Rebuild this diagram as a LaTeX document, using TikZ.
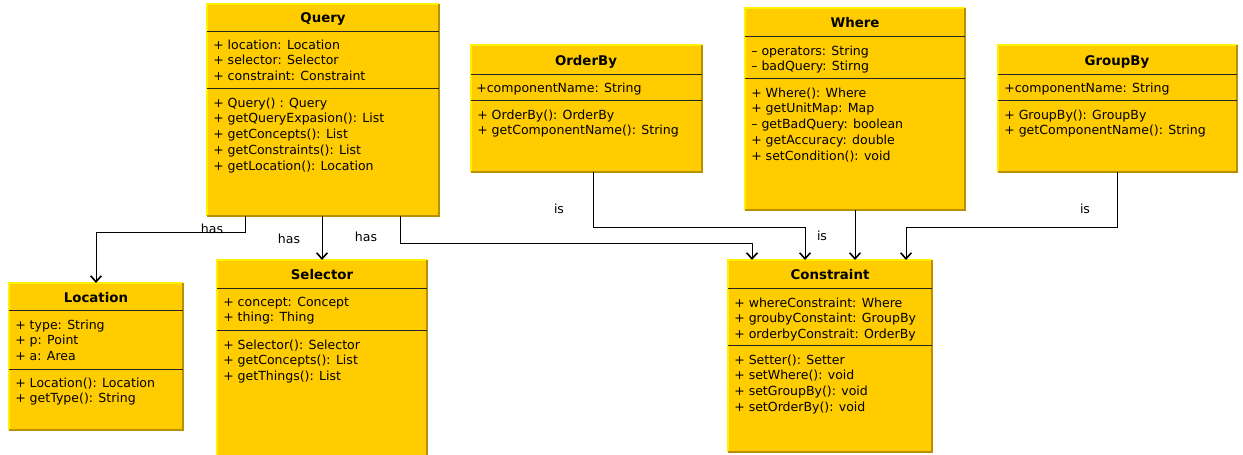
\documentclass[tikz,border=0pt]{standalone}
\usepackage{fontspec}
\setmainfont{DejaVu Sans}
\usetikzlibrary{arrows.meta,calc}
\definecolor{umlfill}{HTML}{FFCC00}
\definecolor{umlhi}{HTML}{FFF200}
\definecolor{umllo}{HTML}{B89000}
\tikzset{
  box/.style={draw=none, fill=umlfill, anchor=north west, inner sep=0pt, outer sep=0pt},
  hi/.style={draw=umlhi, line width=1.5pt},
  lo/.style={draw=umllo, line width=1.5pt},
  sepline/.style={draw=black!85, line width=0.75pt},
  row/.style={anchor=west, inner sep=0pt, yshift=-1.4pt, font=\fontsize{9.4}{11}\selectfont, text height=7pt, text depth=2pt},
  title/.style={inner sep=0pt, yshift=-1.4pt, font=\fontsize{10}{12}\selectfont\bfseries, text height=7pt, text depth=2pt},
  conn/.style={draw=black, line width=0.75pt, -{Straight Barb[length=4.5pt,width=8pt,line width=1.2pt]}},
  lbl/.style={inner sep=0pt, yshift=-0.8pt, font=\fontsize{9.4}{11}\selectfont, text height=7pt, text depth=2pt}
}
\newcommand\umlbox[5]{%
  \node[box, minimum width={(#4-#2)*0.75pt}, minimum height={(#5-#3)*0.75pt}] (#1) at (#2,#3) {};
  \draw[hi] (#1.south west) -- (#1.north west) -- (#1.north east);
  \draw[lo] (#1.north east) -- (#1.south east) -- (#1.south west);
}
\newcommand\umlrows[4]{%
  \foreach \t [count=\i] in {#4}{\node[row] (#1-\i) at (#2,{#3+(\i-1)*15.7}) {\t};}
}
\newcommand\umlsep[4]{\draw[sepline] (#1,#3) -- (#2,#3);}
\begin{document}
\begin{tikzpicture}[x=0.75pt,y=-0.75pt]
\useasboundingbox (0,0) rectangle (1243,454);
\begin{scope}
\clip (0,0) rectangle (1243,454);
% Query
\umlbox{query}{207}{4}{439}{216}
\node[title] (query-t) at (323,17) {Query};
\umlsep{207}{439}{31}{}
\umlsep{207}{439}{88}{}
\umlrows{qa}{213}{44}{+ location: Location,+ selector: Selector,+ constraint: Constraint}
\umlrows{qm}{213}{102}{+ Query() : Query,+ getQueryExpasion(): List,+ getConcepts(): List,+ getConstraints(): List,+ getLocation(): Location}
% Location
\umlbox{location}{9}{283}{183}{430}
\node[title] (location-t) at (96,297) {Location};
\umlsep{9}{183}{310}{}
\umlsep{9}{183}{369}{}
\umlrows{la}{15}{324}{+ type: String,+ p: Point,+ a: Area}
\umlrows{lm}{15}{382}{+ Location(): Location,+ getType(): String}
% Selector
\umlbox{selector}{217}{260}{427}{460}
\node[title] (selector-t) at (322,274) {Selector};
\umlsep{217}{427}{288}{}
\umlsep{217}{427}{330}{}
\umlrows{sa}{223}{301}{+ concept: Concept,+ thing: Thing}
\umlrows{sm}{223}{344}{+ Selector(): Selector,+ getConcepts(): List,+ getThings(): List}
% OrderBy
\umlbox{orderby}{471}{45}{702}{172}
\node[title] (orderby-t) at (586,60) {OrderBy};
\umlsep{471}{702}{74}{}
\umlsep{471}{702}{100}{}
\umlrows{oa}{476}{87}{+componentName: String}
\umlrows{om}{477}{114}{+ OrderBy(): OrderBy,+ getComponentName(): String}
% Where
\umlbox{where}{745}{8}{965}{210}
\node[title] (where-t) at (855,22) {Where};
\umlsep{745}{965}{36}{}
\umlsep{745}{965}{78}{}
\umlrows{wa}{751}{50}{– operators: String,– badQuery: Stirng}
\umlrows{wm}{751}{92}{+ Where(): Where,+ getUnitMap: Map,– getBadQuery: boolean,+ getAccuracy: double,+ setCondition(): void}
% GroupBy
\umlbox{groupby}{998}{45}{1237}{172}
\node[title] (groupby-t) at (1117,60) {GroupBy};
\umlsep{998}{1237}{74}{}
\umlsep{998}{1237}{100}{}
\umlrows{ga}{1004}{87}{+componentName: String}
\umlrows{gm}{1004}{114}{+ GroupBy(): GroupBy,+ getComponentName(): String}
% Constraint
\umlbox{constraint}{728}{260}{932}{452}
\node[title] (constraint-t) at (830,274) {Constraint};
\umlsep{728}{932}{288}{}
\umlsep{728}{932}{345}{}
\umlrows{ca}{734}{302}{+ whereConstraint: Where,+ groubyConstaint: GroupBy,+ orderbyConstrait: OrderBy}
\umlrows{cm}{734}{359}{+ Setter(): Setter,+ setWhere(): void,+ setGroupBy(): void,+ setOrderBy(): void}
\end{scope}
% connectors
\draw[conn] (query.south -| 245,0) |- (96,232) -- (location.north);
\draw[conn] (query.south -| selector.north) -- (selector.north);
\draw[conn] (query.south -| 400,0) |- (752,243) -- (constraint.north -| 752,0);
\draw[conn] (orderby.south -| 593,0) |- (805,227) -- (constraint.north -| 805,0);
\draw[conn] (where.south) -- (constraint.north -| where.south);
\draw[conn] (groupby.south) |- (906,227) -- (constraint.north -| 906,0);
% labels
\node[lbl] (l1) at (212,229) {has};
\node[lbl] (l2) at (289,239) {has};
\node[lbl] (l3) at (366,237) {has};
\node[lbl] (l4) at (559,209) {is};
\node[lbl] (l5) at (822,236) {is};
\node[lbl] (l6) at (1085,209) {is};
\end{tikzpicture}
\end{document}
